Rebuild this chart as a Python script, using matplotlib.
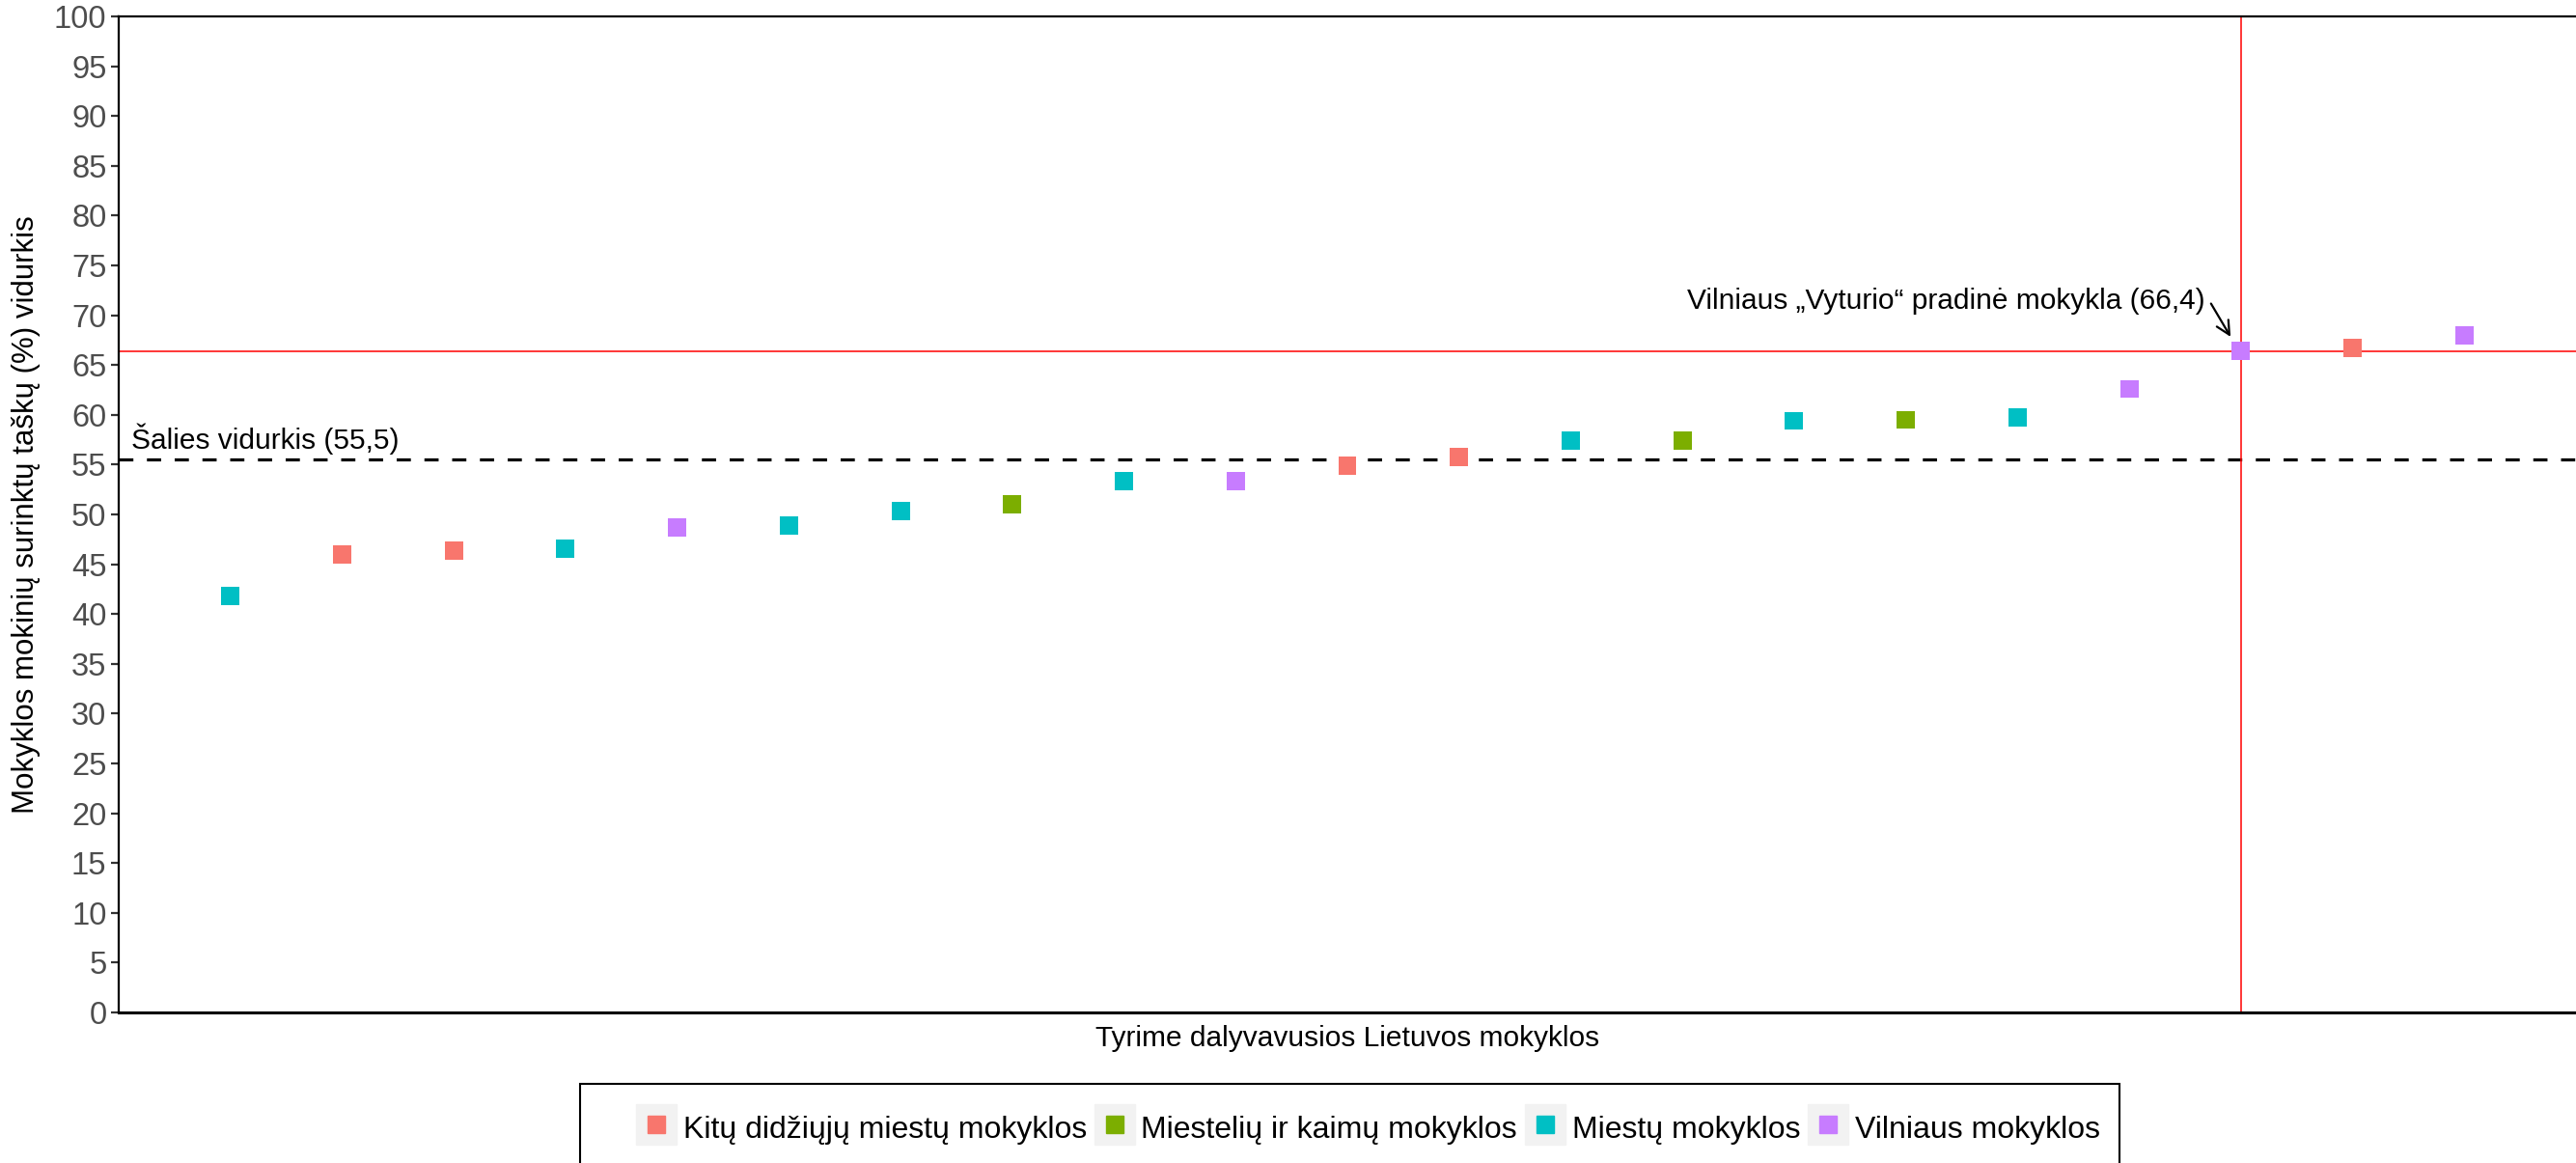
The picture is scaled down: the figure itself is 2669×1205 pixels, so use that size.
import matplotlib
matplotlib.use("Agg")
import matplotlib.pyplot as plt
from matplotlib.lines import Line2D
from matplotlib.patches import Rectangle
from matplotlib.legend_handler import HandlerTuple

plt.rcParams['font.family'] = ['Liberation Sans', 'DejaVu Sans']

# school groups and their colours (ggplot hue palette)
groups = ["Kitų didžiųjų miestų mokyklos", "Miestelių ir kaimų mokyklos",
          "Miestų mokyklos", "Vilniaus mokyklos"]
colors = ["#F8766D", "#7CAE00", "#00BFC4", "#C77CFF"]

# schools sorted by score
school_group = [2, 0, 0, 2, 3, 2, 2, 1, 2, 3, 0, 0, 2, 1, 2, 1, 2, 3, 3, 0, 3]
school_score = [41.8, 46.0, 46.4, 46.6, 48.7, 48.9, 50.3, 51.0, 53.3, 53.3, 54.9,
                55.8, 57.4, 57.4, 59.4, 59.5, 59.7, 62.6, 66.4, 66.7, 68.0]

country_avg = 55.5
vyturio_score = 66.4
vyturio_rank = 19

fig = plt.figure(figsize=(26.69, 12.05), dpi=100)
ax = fig.add_axes([123 / 2669, 1 - 1049 / 1205, 1 - 123 / 2669, (1049 - 17) / 1205])

xs = list(range(1, len(school_score) + 1))
ax.scatter(xs, school_score, marker='s', s=185, linewidths=0,
           c=[colors[g] for g in school_group], zorder=3)

ax.axhline(country_avg, color='black', lw=2.3, dashes=(4.6, 4.4), zorder=2)
ax.axhline(vyturio_score, color='red', lw=1.1, zorder=2)
ax.axvline(vyturio_rank, color='red', lw=1.1, zorder=2)

ax.text(0.11, 57.6, "Šalies vidurkis (55,5)", fontsize=21.5, ha='left', va='center')
ax.text(18.68, 71.4, "Vilniaus „Vyturio“ pradinė mokykla (66,4)", fontsize=21.5,
        ha='right', va='center')
ax.annotate('', xy=(18.92, 67.6), xytext=(18.72, 71.4),
            arrowprops=dict(arrowstyle='->', lw=1.6, color='black', mutation_scale=25))

ax.set_xlim(0, 22)
ax.set_ylim(0, 100)
ax.set_yticks(range(0, 101, 5))
ax.set_xticks([])
ax.tick_params(axis='y', labelsize=23.5, labelcolor='#4D4D4D', color='#333333',
               length=6, width=1.6, pad=3)
ax.set_ylabel("Mokyklos mokinių surinktų taškų (%) vidurkis", fontsize=22.5, labelpad=10)
ax.set_xlabel("Tyrime dalyvavusios Lietuvos mokyklos", fontsize=21.5, labelpad=9)

for side in ['left', 'bottom', 'top']:
    ax.spines[side].set_linewidth(1.6)
ax.spines['bottom'].set_linewidth(2.2)
ax.spines['right'].set_visible(False)

# legend with grey key backgrounds
handles = []
for col in colors:
    bg = Line2D([], [], marker='s', ls='', markersize=30, color='#F2F2F2')
    fg = Line2D([], [], marker='s', ls='', markersize=12.5, color=col)
    handles.append((bg, fg))
fig.legend(handles, groups, loc='center left', ncol=4, frameon=False,
           bbox_to_anchor=(659 / 2669, 1 - 1168 / 1205), borderaxespad=0, borderpad=0,
           fontsize=23, handlelength=1.3, handleheight=1.3, handletextpad=0.22,
           columnspacing=0.25, handler_map={tuple: HandlerTuple(ndivide=1)})
fig.add_artist(Rectangle((601 / 2669, -0.01), (2196 - 601) / 2669, 1 - 1123 / 1205 + 0.01,
                         transform=fig.transFigure, fill=False, ec='black', lw=1.5))

fig.savefig("out.png", dpi=100)
